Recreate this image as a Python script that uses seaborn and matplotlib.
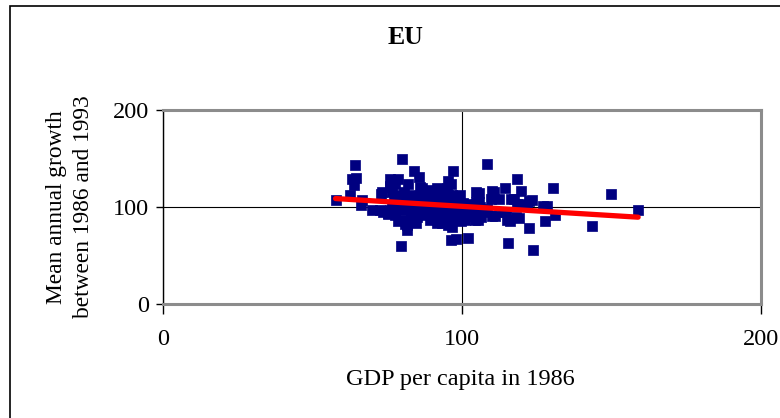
import numpy as np
import pandas as pd
import matplotlib
matplotlib.use('Agg')
import matplotlib.pyplot as plt
import seaborn as sns
from matplotlib.patches import Rectangle

# GDP per capita in 1986 (EU = 100) and mean annual growth 1986-1993
gdp_outer = [57.7, 62.4, 64.1, 63.2, 64.5, 63.9, 66.5, 66.3, 70.0, 72.9, 73.5, 75.2, 75.9, 78.5,
             76.0, 77.6, 76.7, 80.1, 79.6, 78.7, 81.6, 80.9, 82.1, 84.0, 85.7, 80.7, 82.9, 86.7,
             84.7, 85.0, 88.3, 90.7, 92.3, 97.1, 95.2, 96.4, 96.3, 98.0, 101.9, 96.8, 99.2, 95.2,
             91.6, 92.3, 108.5, 105.6, 110.7, 114.4, 118.4, 119.8, 117.3, 112.4, 109.6, 105.6,
             108.3, 105.3, 110.9, 114.7, 115.9, 118.9, 115.5, 122.4, 123.9, 123.5, 121.6, 119.7,
             128.3, 127.7, 131.0, 130.4, 143.5, 149.7, 158.9]
growth_outer = [107.6, 112.0, 142.8, 129.0, 130.0, 123.0, 107.6, 101.7, 97.0, 113.8, 94.8, 92.4,
                129.0, 129.0, 121.7, 124.0, 115.5, 150.0, 59.7, 86.0, 75.9, 82.8, 124.0, 137.6,
                131.0, 115.5, 112.0, 119.7, 83.8, 89.7, 113.8, 115.5, 118.3, 137.6, 126.6, 124.0,
                65.5, 67.2, 68.3, 79.3, 112.0, 112.8, 83.8, 93.0, 144.8, 114.5, 115.5, 119.7,
                128.6, 116.6, 108.0, 108.0, 108.6, 105.2, 98.3, 86.2, 90.7, 94.8, 85.5, 89.0,
                62.8, 78.6, 55.2, 106.9, 102.4, 103.4, 101.0, 85.2, 91.4, 119.7, 80.3, 113.1, 96.6]

gdp_mid = [104.7, 110.0, 110.4, 116.4, 118.4, 122.4, 127.1, 118.0, 110.0, 104.3, 101.0, 113.7,
           99.0, 104.7, 100.3, 115.0, 73.1, 75.9, 86.0, 88.7, 91.5, 93.2, 94.9, 78.7, 96.6,
           88.7, 83.2, 72.6, 75.4, 77.6, 79.8, 81.5, 84.3, 84.3, 87.6, 89.9, 91.5, 93.2, 95.4,
           96.6, 93.2, 89.9, 97.5]
growth_mid = [115.5, 116.5, 110.0, 108.0, 103.0, 106.5, 101.3, 89.7, 91.0, 86.6, 86.6, 95.0,
              86.6, 105.5, 104.0, 86.6, 115.8, 121.0, 121.0, 117.5, 119.3, 115.8, 119.3, 112.4,
              112.4, 109.0, 109.0, 97.0, 93.5, 91.8, 86.6, 81.4, 93.5, 84.8, 93.5, 90.0, 86.6,
              83.2, 81.4, 97.0, 100.3, 100.3, 98.5]

gdp_core = [86.2, 87.5, 88.9, 89.6, 90.4, 91.1, 91.8, 92.6, 93.3, 93.9, 94.5, 94.8, 95.6, 96.1,
            96.7, 97.2, 97.8, 98.3, 98.9, 99.5, 100.2, 100.8, 101.5, 102.3, 103.1, 103.8, 89.2,
            90.7, 92.1, 93.6, 95.1, 96.9, 98.6, 87.1, 85.5, 84.9, 83.7, 82.5, 81.2, 80.4, 79.1,
            78.3, 77.4, 76.6, 75.8, 79.7, 81.9, 83.1, 86.6, 88.1, 90.1, 91.4, 94.2, 95.9, 97.5,
            99.1, 100.5, 102.9, 104.6, 105.9, 107.2, 106.4, 84.2, 82.8, 88.5, 91.9, 86.9, 84.6]
growth_core = [104.5, 99.2, 96.1, 102.8, 107.1, 94.3, 98.7, 103.6, 89.2, 96.8, 101.4, 92.5,
               105.9, 88.4, 99.5, 94.1, 102.2, 90.6, 97.3, 85.7, 93.8, 99.1, 95.6, 103.3, 91.2,
               97.9, 86.9, 90.3, 84.6, 107.9, 110.2, 108.6, 106.3, 108.8, 96.5, 101.7, 98.2,
               104.9, 101.3, 96.9, 104.1, 99.6, 107.8, 102.5, 97.2, 110.3, 108.1, 93.9, 91.5,
               93.1, 88.1, 101.9, 99.9, 95.2, 91.8, 101.6, 88.9, 100.6, 94.4, 99.8, 94.7, 90.1,
               89.4, 87.1, 112.6, 110.9, 115.1, 111.7]

ticks = [0, 100, 200]

df = pd.DataFrame({
    'gdp': gdp_outer + gdp_mid + gdp_core,
    'growth': growth_outer + growth_mid + growth_core,
})

sns.set_style('white')
plt.rcParams['font.family'] = ['Liberation Serif', 'DejaVu Serif']
plt.rcParams['text.color'] = 'black'
plt.rcParams['xtick.color'] = 'black'
plt.rcParams['ytick.color'] = 'black'

fig = plt.figure(figsize=(7.8, 4.18), dpi=100)
ax = fig.add_axes([163 / 780, 1 - 304 / 418, 598 / 780, 194 / 418])

sns.scatterplot(data=df, x='gdp', y='growth', marker='s', s=46, color='#000080',
                edgecolor='#000080', linewidth=0.5, ax=ax, zorder=3)
sns.regplot(data=df, x='gdp', y='growth', scatter=False, ci=None, truncate=True,
            color='#ff0000', line_kws={'linewidth': 3.8, 'zorder': 4}, ax=ax)

ax.set_xlim(0, 200)
ax.set_ylim(0, 200)
ax.set_xticks(ticks)
ax.set_yticks(ticks)
ax.set_xlabel('')
ax.set_ylabel('')
ax.grid(True, color='black', linewidth=0.8)
ax.set_axisbelow(True)

for side in ['top', 'right', 'bottom']:
    ax.spines[side].set_color('#8c8c8c')
    ax.spines[side].set_linewidth(2.2)
ax.spines['left'].set_color('black')
ax.spines['left'].set_linewidth(1.0)

ax.tick_params(axis='x', direction='out', length=7, width=1, color='black', pad=11,
               labelsize=17.5, labelcolor='black')
ax.tick_params(axis='y', direction='out', length=5, width=1, color='black', pad=5,
               labelsize=17.5, labelcolor='black')
ax.tick_params(bottom=True, left=True)

fig.text(405 / 780, 1 - 38 / 418, 'EU', ha='center', va='center', fontsize=18.5,
         fontweight='bold', color='black')
fig.text(460 / 780, 1 - 380 / 418, 'GDP per capita in 1986', ha='center', va='center',
         fontsize=17.5, color='black')
fig.text(70 / 780, 1 - 207 / 418, 'Mean annual growth\nbetween 1986 and 1993', ha='center',
         va='center', rotation=90, fontsize=16.8, linespacing=1.35, color='black')

# outer chart border
fig.patches.append(Rectangle((10 / 780, -0.02), 1.0, 1.02 - 6 / 418, transform=fig.transFigure,
                             fill=False, edgecolor='black', linewidth=1.2))

fig.savefig('out.png', dpi=100)
